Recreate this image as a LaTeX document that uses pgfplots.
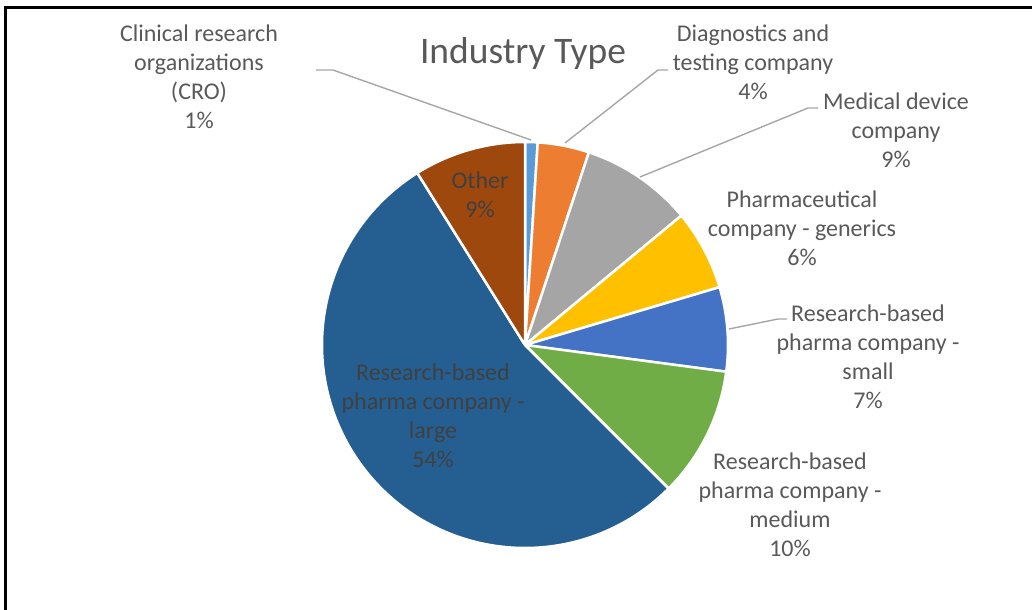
\documentclass[border=0pt]{standalone}
\usepackage{fontspec}
\setmainfont{Carlito}
\usepackage{pgfplots}
\usepackage{pgfplotstable}
\pgfplotsset{compat=1.18}

\definecolor{cCRO}{HTML}{5B9BD5}
\definecolor{cDiag}{HTML}{ED7D31}
\definecolor{cMed}{HTML}{A5A5A5}
\definecolor{cGen}{HTML}{FFC000}
\definecolor{cSmall}{HTML}{4472C4}
\definecolor{cMedium}{HTML}{70AD47}
\definecolor{cLarge}{HTML}{255E91}
\definecolor{cOther}{HTML}{9E480E}
\definecolor{txt}{HTML}{595959}
\definecolor{intxt}{HTML}{404040}
\definecolor{leader}{HTML}{A6A6A6}

% share of each industry type, percent (clockwise from 12 o'clock)
\pgfplotstableread{
name    value color
CRO     1.0   cCRO
Diag    4.1   cDiag
Med     8.9   cMed
Gen     6.4   cGen
Small   6.7   cSmall
Medium  10.4  cMedium
Large   53.6  cLarge
Other   8.9   cOther
}\piedata

\newcommand{\lbl}{\fontsize{24bp}{29bp}\selectfont}

\begin{document}
\begin{tikzpicture}
\useasboundingbox (0,0) rectangle (1032bp,610bp);
\begin{axis}[
  x=1bp, y=1bp, scale only axis,
  xmin=0, xmax=1032, ymin=0, ymax=610,
  hide axis, clip=false,
]
\pgfplotsextra{
  \xdef\cum{0}
  \foreach \i in {0,...,7}{
    \pgfplotstablegetelem{\i}{value}\of\piedata \let\v\pgfplotsretval
    \pgfplotstablegetelem{\i}{color}\of\piedata \let\c\pgfplotsretval
    \pgfmathsetmacro\sa{90-3.6*\cum}
    \pgfmathsetmacro\ea{90-3.6*(\cum+\v)}
    \fill[fill=\c, draw=white, line width=2.5bp, line join=round]
      (axis cs:525,265) -- ++(\sa:203bp) arc[start angle=\sa, end angle=\ea, radius=203bp] -- cycle;
    \pgfmathsetmacro\nc{\cum+\v}
    \xdef\cum{\nc}
  }
  % leader lines
  \draw[leader, line width=1.4bp] (axis cs:316,540) -- (axis cs:333,540) -- (axis cs:531,470);
  \draw[leader, line width=1.4bp] (axis cs:565,467) -- (axis cs:658,540) -- (axis cs:668,540);
  \draw[leader, line width=1.4bp] (axis cs:640,433) -- (axis cs:808,502) -- (axis cs:818,502);
  \draw[leader, line width=1.4bp] (axis cs:729,281) -- (axis cs:778,291) -- (axis cs:787,291);
  % border
  \draw[black, line width=3.5bp] (axis cs:5.5,0) -- (axis cs:5.5,602.5) -- (axis cs:1040,602.5);
}
\node[text=txt, font=\fontsize{37.5bp}{45bp}\selectfont] at (axis cs:523,556.5) {Industry Type};
\node[text=txt, font=\lbl, align=center] at (axis cs:199,533.5) {Clinical research\\organizations\\(CRO)\\1\%};
\node[text=txt, font=\lbl, align=center] at (axis cs:753,548) {Diagnostics and\\testing company\\4\%};
\node[text=txt, font=\lbl, align=center] at (axis cs:896,480) {Medical device\\company\\9\%};
\node[text=txt, font=\lbl, align=center] at (axis cs:802,382) {Pharmaceutical\\company - generics\\6\%};
\node[text=txt, font=\lbl, align=center] at (axis cs:868,253) {Research-based\\pharma company -\\small\\7\%};
\node[text=txt, font=\lbl, align=center] at (axis cs:790,105) {Research-based\\pharma company -\\medium\\10\%};
\node[text=intxt, font=\lbl, align=center] at (axis cs:480,415.5) {Other\\9\%};
\node[text=intxt, font=\lbl, align=center] at (axis cs:433,194.5) {Research-based\\pharma company -\\large\\54\%};
\end{axis}
\end{tikzpicture}
\end{document}
